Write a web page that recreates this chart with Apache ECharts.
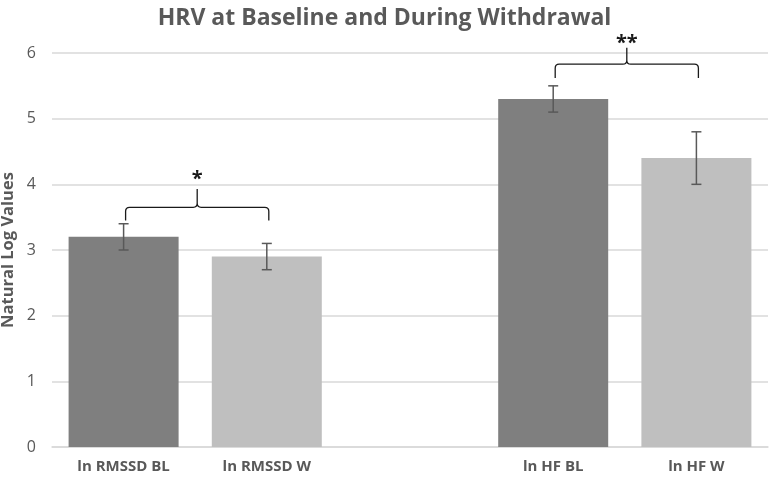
<!DOCTYPE html>
<html>
<head>
<meta charset="utf-8">
<script src="https://cdn.jsdelivr.net/npm/echarts@6/dist/echarts.min.js"></script>
<style>
  html, body { margin: 0; padding: 0; background: #fff; }
  #chart { width: 769px; height: 477px; }
</style>
</head>
<body>
<div id="chart"></div>
<script>
// categories (middle slot is the empty gap between the two groups)
const categories = ['ln RMSSD BL', 'ln RMSSD W', '', 'ln HF BL', 'ln HF W']
const values = [3.2, 2.9, null, 5.3, 4.4]
const errLow = [3.0, 2.7, null, 5.1, 4.0]
const errHigh = [3.4, 3.1, null, 5.5, 4.8]
const barColors = ['#7f7f7f', '#bfbfbf', '#ffffff', '#7f7f7f', '#bfbfbf']
const yTicks = [0, 1, 2, 3, 4, 5, 6]

// significance brackets: [from, to, tip, line, peak, star y, label]
const brackets = [
  [0, 1, 3.45, 3.65, 3.93, 4.08, '*'],
  [3, 4, 5.62, 5.83, 6.08, 6.15, '**'],
]

const FONT = '"Open Sans", sans-serif'

const chart = echarts.init(document.getElementById('chart'))

const errData = categories
  .map((c, i) => [i, errLow[i], errHigh[i]])
  .filter(d => d[1] != null)

const option = {
  animation: false,
  title: {
    text: 'HRV at Baseline and During Withdrawal',
    left: 'center',
    top: 2,
    textStyle: {
      fontFamily: FONT,
      fontSize: 23,
      fontWeight: 'bold',
      color: '#595959',
    },
  },
  grid: {
    left: 52,
    right: 1,
    top: 53,
    bottom: 30,
    containLabel: false,
    outerBoundsMode: 'none',
  },
  xAxis: {
    type: 'category',
    data: categories,
    axisTick: { show: false },
    axisLine: { lineStyle: { color: '#d9d9d9', width: 1.5 } },
    axisLabel: {
      interval: 0,
      margin: 12,
      fontFamily: FONT,
      fontSize: 15,
      fontWeight: 'bold',
      color: '#595959',
    },
  },
  yAxis: {
    type: 'value',
    min: yTicks[0],
    max: yTicks[yTicks.length - 1],
    interval: 1,
    name: 'Natural Log Values',
    nameLocation: 'middle',
    nameGap: 35,
    nameMoveOverlap: false,
    nameTextStyle: {
      fontFamily: FONT,
      fontSize: 16.5,
      fontWeight: 'bold',
      color: '#595959',
    },
    axisLine: { show: false },
    axisTick: { show: false },
    axisLabel: {
      margin: 16,
      fontFamily: FONT,
      fontSize: 16,
      color: '#595959',
    },
    splitLine: { lineStyle: { color: '#d9d9d9', width: 1.5 } },
  },
  series: [
    {
      type: 'bar',
      barWidth: 110,
      data: values.map((v, i) => ({ value: v, itemStyle: { color: barColors[i] } })),
    },
    {
      type: 'custom',
      data: errData,
      z: 5,
      renderItem: (params, api) => {
        const lo = api.coord([api.value(0), api.value(1)])
        const hi = api.coord([api.value(0), api.value(2)])
        const w = 5
        const style = { stroke: '#595959', lineWidth: 1.5, fill: null }
        return {
          type: 'group',
          children: [
            { type: 'line', shape: { x1: lo[0], y1: lo[1], x2: hi[0], y2: hi[1] }, style },
            { type: 'line', shape: { x1: lo[0] - w, y1: lo[1], x2: lo[0] + w, y2: lo[1] }, style },
            { type: 'line', shape: { x1: hi[0] - w, y1: hi[1], x2: hi[0] + w, y2: hi[1] }, style },
          ],
        }
      },
    },
    {
      type: 'custom',
      data: brackets,
      z: 6,
      clip: false,
      renderItem: (params, api) => {
        const b = brackets[params.dataIndex]
        const p1 = api.coord([b[0], b[2]])
        const p2 = api.coord([b[1], b[2]])
        const yLine = api.coord([b[0], b[3]])[1]
        const yPeak = api.coord([b[0], b[4]])[1]
        const yStar = api.coord([b[0], b[5]])[1]
        const x1 = p1[0] + 2
        const x2 = p2[0] + 2
        const xm = (x1 + x2) / 2
        const yTip = p1[1]
        const r = 4
        const path =
          `M${x1},${yTip} L${x1},${yLine + r} Q${x1},${yLine} ${x1 + r},${yLine} ` +
          `L${xm - r},${yLine} Q${xm},${yLine} ${xm},${yLine - r} L${xm},${yPeak} ` +
          `M${xm},${yLine - r} Q${xm},${yLine} ${xm + r},${yLine} ` +
          `L${x2 - r},${yLine} Q${x2},${yLine} ${x2},${yLine + r} L${x2},${yTip}`
        return {
          type: 'group',
          children: [
            {
              type: 'path',
              shape: { pathData: path },
              style: { stroke: '#1a1a1a', lineWidth: 1.3, fill: null },
            },
            {
              type: 'text',
              x: xm,
              y: yStar,
              style: {
                text: b[6],
                fontFamily: FONT,
                fontSize: 20,
                fontWeight: 'bold',
                fill: '#1a1a1a',
                align: 'center',
                verticalAlign: 'middle',
              },
            },
          ],
        }
      },
    },
  ],
}

chart.setOption(option)
</script>
</body>
</html>
